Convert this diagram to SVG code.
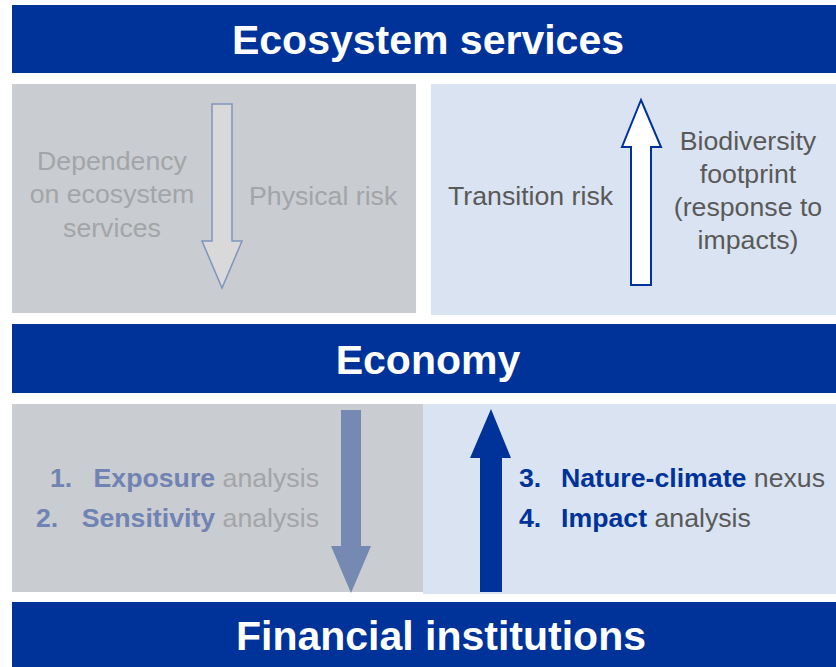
<svg xmlns="http://www.w3.org/2000/svg" width="836" height="667" viewBox="0 0 836 667">
<style>
.bar{fill:#003399}
.title{font-family:"Liberation Sans",Arial,sans-serif;font-weight:bold;font-size:41px;fill:#ffffff;text-anchor:middle}
.t{font-family:"Liberation Sans",Arial,sans-serif;font-size:26.7px}
.g{fill:#a3a5a8}
.d{fill:#595959}
.b{font-weight:bold}
.mb{fill:#7083b3}
.db{fill:#003399}
.mid{text-anchor:middle}
.end{text-anchor:end}
</style>
<rect width="836" height="667" fill="#ffffff"/>
<g id="ecosystem-services">
<rect class="bar" x="12" y="5" width="824" height="68"/>
<text class="title" x="428" y="54">Ecosystem services</text>
</g>
<g id="panel-physical">
<rect x="12" y="84" width="404" height="229" fill="#c9ccd0"/>
<text class="t g mid" x="112"><tspan x="112" y="169.5">Dependency</tspan><tspan x="112" y="203">on ecosystem</tspan><tspan x="112" y="236.5">services</tspan></text>
<text class="t g" x="249" y="205">Physical risk</text>
</g>
<g id="panel-transition">
<rect x="431" y="84" width="405" height="231" fill="#d9e3f1"/>
<text class="t d" x="448" y="205">Transition risk</text>
<text class="t d mid"><tspan x="748" y="149.5">Biodiversity</tspan><tspan x="748" y="183">footprint</tspan><tspan x="748" y="216">(response to</tspan><tspan x="748" y="249">impacts)</tspan></text>
</g>
<g id="economy">
<rect class="bar" x="12" y="324" width="824" height="69"/>
<text class="title" x="428" y="374">Economy</text>
</g>
<g id="panel-analysis-left">
<rect x="12" y="404" width="411" height="188" fill="#c9ccd0"/>
<text class="t b mb" x="50" y="487">1.</text>
<text class="t end" x="319" y="487"><tspan class="b mb">Exposure</tspan><tspan class="g"> analysis</tspan></text>
<text class="t b mb" x="36" y="527">2.</text>
<text class="t end" x="319" y="527"><tspan class="b mb">Sensitivity</tspan><tspan class="g"> analysis</tspan></text>
</g>
<g id="panel-analysis-right">
<rect x="423" y="404" width="413" height="190" fill="#d9e3f1"/>
<text class="t b db" x="519" y="487">3.</text>
<text class="t" x="561" y="487"><tspan class="b db">Nature-climate</tspan><tspan class="d"> nexus</tspan></text>
<text class="t b db" x="519" y="527">4.</text>
<text class="t" x="561" y="527"><tspan class="b db">Impact</tspan><tspan class="d"> analysis</tspan></text>
</g>
<g id="financial-institutions">
<rect class="bar" x="12" y="602" width="824" height="65"/>
<text class="title" x="441" y="650">Financial institutions</text>
</g>
<g id="connectors">
<polygon points="212,104 232,104 232,241 242,241 222,288 202,241 212,241" fill="#d9d9d9" stroke="#7f95be" stroke-width="1.5"/>
<polygon points="641,100 661,147 651,147 651,285 631,285 631,147 622,147" fill="#ffffff" stroke="#003399" stroke-width="2"/>
<polygon points="341,410 361,410 361,546 371,546 351,593 331,546 341,546" fill="#7589b2"/>
<polygon points="491,409 511,458 502,458 502,592 480,592 480,458 470,458" fill="#003399"/>
</g>
</svg>
